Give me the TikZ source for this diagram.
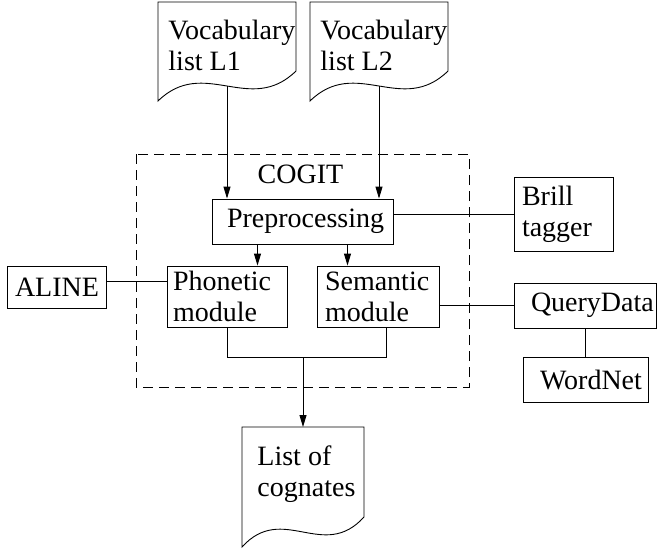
\documentclass[tikz,border=0pt]{standalone}
\usepackage{fontspec}
\setmainfont{Liberation Serif}
\usepackage{tikz}
\usetikzlibrary{arrows.meta,positioning,calc}

% document symbol: name, left, top, right, bottom
\newcommand{\docshape}[5]{%
	\draw (#2,#3) -- (#4,#3) -- (#4,{#5-30}) .. controls ({#4-(#4-#2)/3},{#5+15}) and ({#2+(#4-#2)/3},{#5-45}) .. (#2,#5) -- cycle;
	\coordinate (#1-in) at ({(#2+#4)/2},#3);
	\coordinate (#1-out) at ({(#2+#4)/2},{#5-15});
}

\begin{document}
\begin{tikzpicture}[x=1pt,y=-1pt,>={Triangle[length=12pt,width=7pt]},line width=0.9pt,
			font=\fontsize{28}{31}\selectfont]
			\tikzstyle{box}=[draw,align=left,inner ysep=0pt]
			\tikzstyle{doctext}=[align=left,anchor=north west,inner sep=0pt]
			
			\useasboundingbox (0,0) rectangle (658,550);
			
			\node[doctext] (voc1) at (168,20) {Vocabulary\\list L1};
			\docshape{voc1}{158}{2}{296}{101}
			
			\node[doctext] (voc2) at (320,20) {Vocabulary\\list L2};
			\docshape{voc2}{310}{2}{448}{101}
			
			\draw[dash pattern=on 10pt off 6pt] (136,154) rectangle (469,387);
			
			\node[anchor=base,inner sep=0pt] (cogit) at (300.5,183) {COGIT};
			
			\node[box, text width=151pt, inner xsep=15pt, minimum height=45pt] (prep) at (302.5,221.5) {Preprocessing};
			
			\node[box, text width=83pt, inner xsep=8pt, minimum height=74pt] (brill) at (563.5,214) {Brill\\tagger};
			
			\node[box, text width=83pt, inner xsep=8pt, minimum height=42pt] (aline) at (56.5,287) {ALINE};
			
			\node[box, text width=108pt, inner xsep=6pt, minimum height=61pt] (phon) at (227,296.5) {Phonetic\\module};
			
			\node[box, text width=106pt, inner xsep=8pt, minimum height=61pt] (sem) at (378,296.5) {Semantic\\module};
			
			\node[box, text width=108pt, inner xsep=17pt, minimum height=45pt] (query) at (585,305.5) {QueryData};
			
			\node[box, text width=91pt, inner xsep=17pt, minimum height=45pt] (wordnet) at (585.5,379.5) {WordNet};
			
			\node[doctext] (cog) at (257,445) {List of\\cognates};
			\docshape{cog}{242}{427}{364}{547}
			
			\coordinate (merge) at (303,357);
			
			\draw[->] (voc1-out) -- (voc1-out |- prep.north);
			\draw[->] (voc2-out) -- (voc2-out |- prep.north);
			\draw[->] ([xshift=-45pt]prep.south) -- ([xshift=-45pt]prep.south |- phon.north);
			\draw[->] ([xshift=45pt]prep.south) -- ([xshift=45pt]prep.south |- sem.north);
			\draw (prep.east |- brill.west) -- (brill.west);
			\draw (aline.east |- 0,281) -- (phon.west |- 0,281);
			\draw (sem.east |- query.west) -- (query.west);
			\draw (query.south -| wordnet.north) -- (wordnet.north);
			\draw (phon.south) |- (merge) -| ([xshift=8pt]sem.south);
			\draw[->] (merge) -- (cog-in);
			
\end{tikzpicture}
\end{document}
